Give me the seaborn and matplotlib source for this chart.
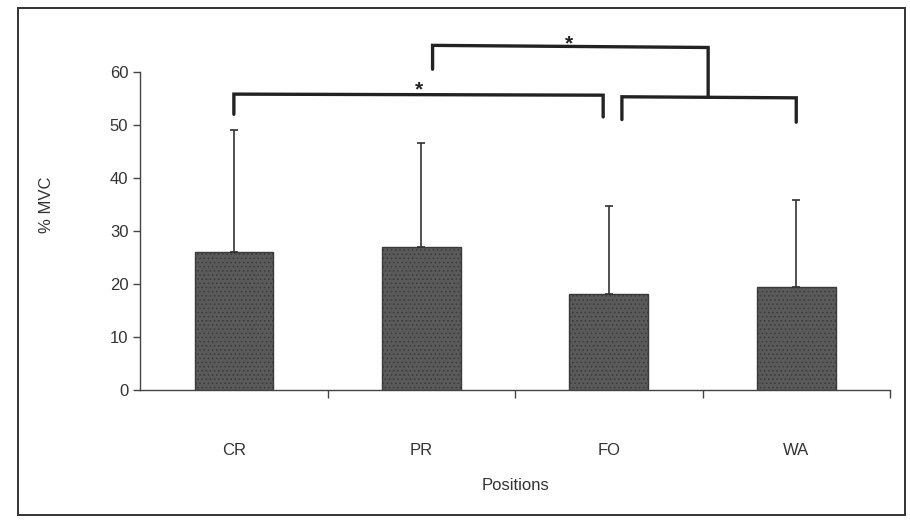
import matplotlib
matplotlib.use("Agg")
import matplotlib.pyplot as plt
import seaborn as sns
import pandas as pd
from matplotlib.patches import Rectangle

positions = ["CR", "PR", "FO", "WA"]
mvc_mean = [26.0, 27.0, 18.0, 19.5]
mvc_sd = [23.0, 19.5, 16.7, 16.3]

sns.set_style("white")
plt.rcParams['font.family'] = ['Liberation Sans', 'DejaVu Sans']
plt.rcParams['hatch.color'] = '#7a7a7a'
plt.rcParams['hatch.linewidth'] = 0.6

df = pd.DataFrame({"Positions": positions, "MVC": mvc_mean})

fig = plt.figure(figsize=(9.1, 5.24), dpi=100)
ax = fig.add_axes([0.154, 0.256, 0.824, 0.708])

sns.barplot(data=df, x="Positions", y="MVC", color="#5a5a5a", width=0.42,
            errorbar=None, ax=ax, edgecolor="#3a3a3a", linewidth=1.0,
            saturation=1)
for p in ax.patches:
    p.set_hatch("....")

ax.errorbar(range(len(positions)), mvc_mean, yerr=[[0]*4, mvc_sd], fmt='none',
            ecolor="#333333", elinewidth=1.2, capsize=3, capthick=1.2)

ax.set_xlim(-0.5, 3.5)
ax.set_ylim(0, 70)
ax.set_yticks(range(0, 61, 10))
ax.spines['top'].set_visible(False)
ax.spines['right'].set_visible(False)
ax.spines['left'].set_bounds(0, 60)
for s in ['left', 'bottom']:
    ax.spines[s].set_color('#444444')
    ax.spines[s].set_linewidth(1.0)

ax.tick_params(axis='y', which='major', direction='out', length=5, width=1,
               color='#444444', labelsize=12, labelcolor='#333333', left=True)
ax.tick_params(axis='x', which='major', length=0, pad=38, labelsize=12,
               labelcolor='#333333')
ax.set_xticks([0.5, 1.5, 2.5, 3.5], minor=True)
ax.tick_params(axis='x', which='minor', direction='out', length=6, width=1,
               color='#444444', bottom=True)

ax.set_xlabel("Positions", fontsize=12, color='#333333', labelpad=15)
ax.set_ylabel("% MVC", fontsize=12, color='#333333', labelpad=40)

# significance brackets
blw = 2.4
bc = '#222222'
ax.plot([0.0, 0.0, 1.97, 1.97], [52, 55.8, 55.6, 51.5], color=bc, lw=blw,
        solid_joinstyle='miter')
ax.plot([2.07, 2.07, 3.0, 3.0], [51, 55.3, 55.1, 50.5], color=bc, lw=blw,
        solid_joinstyle='miter')
ax.plot([1.06, 1.06, 2.53, 2.53], [60.5, 65.0, 64.6, 55.3], color=bc, lw=blw,
        solid_joinstyle='miter')
ax.text(0.99, 54.8, "*", ha='center', va='bottom', fontsize=15,
        fontweight='bold', color=bc)
ax.text(1.79, 63.5, "*", ha='center', va='bottom', fontsize=15,
        fontweight='bold', color=bc)

fig.patches.append(Rectangle((18/910, 1-515/524), 887/910, 507/524,
                             transform=fig.transFigure, fill=False,
                             edgecolor='#333333', linewidth=1.4))

fig.savefig("out.png", dpi=100)
